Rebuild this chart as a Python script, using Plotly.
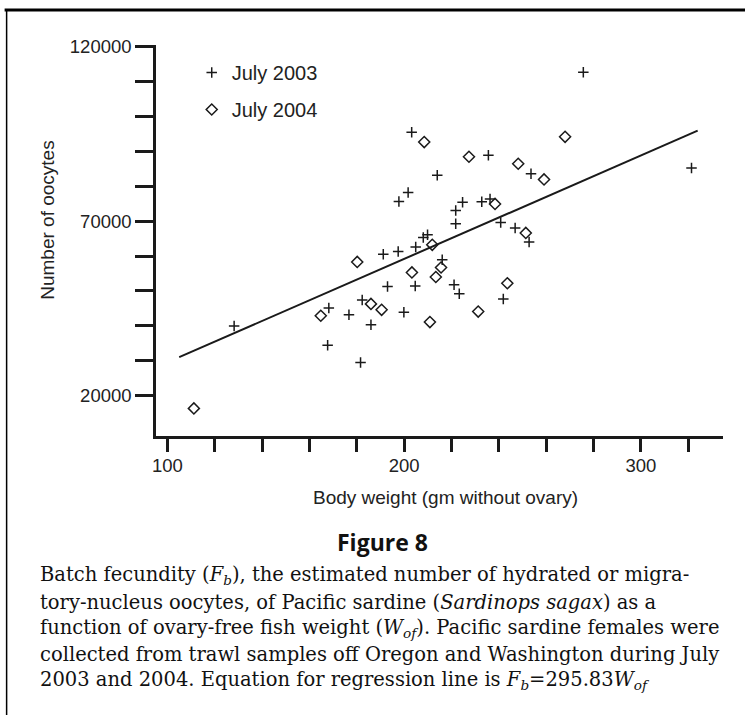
import plotly.graph_objects as go

# ---------------- data ----------------
x_2003 = [128.2, 168.2, 167.7, 176.7, 181.6, 182.3, 186.0, 191.2, 193.0, 197.5,
          199.9, 204.7, 204.9, 208.1, 209.9, 216.1, 221.1, 223.3, 221.8, 221.8,
          224.7, 232.8, 236.3, 240.8, 246.9, 252.8, 241.9, 197.8, 201.7, 214.0,
          203.2, 235.6, 253.6, 275.7, 321.4]
y_2003 = [40000, 45100, 34500, 43200, 29500, 47400, 40300, 60500, 51300, 61300,
          43900, 51400, 62600, 65300, 66100, 58900, 51800, 49200, 69200, 73000,
          75400, 75500, 76300, 69600, 68000, 64000, 47700, 75600, 78200, 83100,
          95400, 88800, 83500, 112600, 85200]

x_2004 = [111.2, 164.8, 180.2, 186.0, 190.5, 203.3, 210.9, 211.9, 213.4, 215.6,
          231.3, 243.6, 238.4, 251.4, 208.5, 227.4, 248.2, 259.1, 268.0]
y_2004 = [16400, 42900, 58300, 46300, 44600, 55300, 41100, 63200, 54000, 56700,
          44100, 52200, 74900, 66600, 92600, 88400, 86400, 81900, 94100]

series_names = ["July 2003", "July 2004"]

reg_slope = 295.83
reg_x = [105.0, 324.0]
reg_y = [reg_slope * v for v in reg_x]

x_tick_vals = [100, 120, 140, 160, 180, 200, 220, 240, 260, 280, 300, 320]
x_tick_text = ["100", "", "", "", "", "200", "", "", "", "", "300", ""]
y_tick_vals = [20000, 30000, 40000, 50000, 60000, 70000, 80000, 90000,
               100000, 110000, 120000]
y_tick_text = ["20000", "", "", "", "", "70000", "", "", "", "", "120000"]

x_title = "Body weight (gm without ovary)"
y_title = "Number of oocytes"
fig_label = "Figure 8"
caption_lines = [
    "Batch fecundity (<i>F<sub>b</sub></i>), the estimated number of hydrated or migra-",
    "tory-nucleus oocytes, of Pacific sardine (<i>Sardinops sagax</i>) as a",
    "function of ovary-free fish weight (<i>W<sub>of</sub></i>). Pacific sardine females were",
    "collected from trawl samples off Oregon and Washington during July",
    "2003 and 2004. Equation for regression line is <i>F<sub>b</sub></i>=295.83<i>W<sub>of</sub></i>",
]

# ---------------- layout helpers ----------------
W, H = 745, 715
L, R, T, B = 156.3, 22, 45, 279.3
PW, PH = W - L - R, H - T - B


def px(xpix):
    return (xpix - L) / PW


def py(ypix):
    return (H - B - ypix) / PH


INK = "#1a1a1a"
SANS = "Liberation Sans, Arial, sans-serif"
SERIF = "DejaVu Serif, serif"

fig = go.Figure()

fig.add_trace(go.Scatter(
    x=reg_x, y=reg_y, mode="lines", showlegend=False,
    line=dict(color=INK, width=2), hoverinfo="skip"))

fig.add_trace(go.Scatter(
    x=x_2003, y=y_2003, mode="markers", name=series_names[0], legendgroup="a",
    marker=dict(symbol="cross-thin-open", size=7.5, color=INK,
                line=dict(color=INK, width=1.5))))

fig.add_trace(go.Scatter(
    x=x_2004, y=y_2004, mode="markers", name=series_names[1], legendgroup="b",
    marker=dict(symbol="diamond-open", size=8.5, color=INK,
                line=dict(color=INK, width=1.5))))

axis_common = dict(showgrid=False, zeroline=False, showline=True,
                   linewidth=2.5, linecolor=INK, ticks="outside",
                   tickwidth=2.5, tickcolor=INK,
                   tickfont=dict(family=SANS, size=18.5, color="#222"))

fig.update_xaxes(range=[95.2, 334.7], tickmode="array", tickvals=x_tick_vals,
                 ticktext=x_tick_text, ticklen=13, ticklabelstandoff=-2,
                 **axis_common)
fig.update_yaxes(range=[8500, 120370], tickmode="array", tickvals=y_tick_vals,
                 ticktext=y_tick_text, ticklen=18, **axis_common)

annotations = [
    dict(text=x_title, x=px(446), y=py(497), xref="paper", yref="paper",
         xanchor="center", yanchor="middle", showarrow=False,
         font=dict(family=SANS, size=19, color="#222")),
    dict(text=y_title, x=px(47), y=py(220), xref="paper", yref="paper",
         xanchor="center", yanchor="middle", showarrow=False, textangle=-90,
         font=dict(family=SANS, size=19, color="#222")),
    dict(text="<b>" + fig_label + "</b>", x=px(383), y=py(542), xref="paper",
         yref="paper", xanchor="center", yanchor="middle", showarrow=False,
         font=dict(family="Open Sans, sans-serif", size=23, color="#111")),
]
cap_y = [575, 602, 628, 654, 680]
for line, yy in zip(caption_lines, cap_y):
    annotations.append(dict(text=line, x=px(38), y=py(yy), xref="paper",
                            yref="paper", xanchor="left", yanchor="middle",
                            showarrow=False, align="left",
                            font=dict(family=SERIF, size=19.5, color="#111")))

shapes = [
    dict(type="line", xref="paper", yref="paper", x0=px(5), x1=px(745),
         y0=py(10), y1=py(10), line=dict(color="#000", width=3)),
    dict(type="line", xref="paper", yref="paper", x0=px(7), x1=px(7),
         y0=py(10), y1=py(716), line=dict(color="#000", width=1.5)),
]

fig.update_layout(
    width=W, height=H, margin=dict(l=L, r=R, t=T, b=B, pad=0),
    paper_bgcolor="white", plot_bgcolor="white",
    showlegend=True,
    legend=dict(x=px(192), y=py(53), xanchor="left", yanchor="top",
                bgcolor="rgba(0,0,0,0)", borderwidth=0, tracegroupgap=8,
                font=dict(family=SANS, size=20, color="#222")),
    annotations=annotations, shapes=shapes,
)

fig.write_html("out.html")
